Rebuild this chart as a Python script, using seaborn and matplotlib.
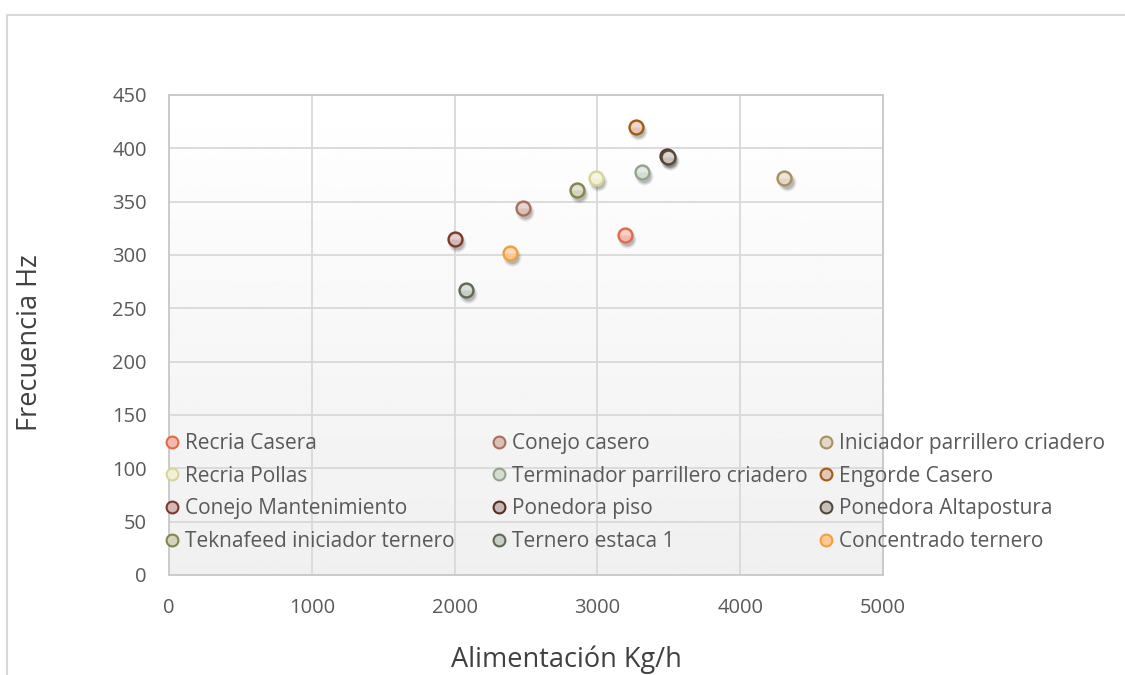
import numpy as np
import pandas as pd
import matplotlib
matplotlib.use("Agg")
import matplotlib.pyplot as plt
import matplotlib.transforms as mtransforms
from matplotlib.lines import Line2D
from matplotlib.markers import MarkerStyle
import seaborn as sns

# Feed types with measured feed rate (kg/h) and frequency (Hz)
series = [
    "Recria Casera", "Conejo casero", "Iniciador parrillero criadero",
    "Recria Pollas", "Terminador parrillero criadero", "Engorde Casero",
    "Conejo Mantenimiento", "Ponedora piso", "Ponedora Altapostura",
    "Teknafeed iniciador ternero", "Ternero estaca 1", "Concentrado ternero",
]
alimentacion = [3190, 2480, 4310, 2990, 3310, 3270, 2000, 3485, 3495, 2860, 2080, 2390]
frecuencia = [319, 344, 372, 372, 378, 420, 315, 393, 392, 361, 267, 302]

fill_colors = ["#F4B8AC", "#DCC0B8", "#E4D8C4", "#F2F0D0", "#D4DED0", "#E8C4B8",
               "#D4B8B4", "#C8B8B4", "#C8C0B8", "#D4D4BC", "#C8CEC4", "#FFC890"]
edge_colors = ["#E06A4A", "#A8705C", "#A89064", "#D8D49C", "#94A48C", "#A05C10",
               "#7C3A2C", "#5C2C20", "#54483A", "#84844C", "#5C6A54", "#F0A040"]

x_ticks = [0, 1000, 2000, 3000, 4000, 5000]
y_ticks = list(range(0, 451, 50))

df = pd.DataFrame({"Alimentación": alimentacion, "Frecuencia": frecuencia, "Serie": series})

sns.set_theme(style="white")
plt.rcParams["font.family"] = ["Open Sans", "DejaVu Sans"]
text_color = "#595959"

W, H = 1125, 675
fig = plt.figure(figsize=(W / 100, H / 100), dpi=100)
fig.patch.set_facecolor("white")
ax = fig.add_axes([169 / W, 1 - 575 / H, (883 - 169) / W, (575 - 95) / H])

# soft vertical gradient in the plot area
grad = np.linspace(0.94, 1.0, 256).reshape(-1, 1)
ax.imshow(grad, extent=(0, 1, 0, 1), transform=ax.transAxes, cmap="gray",
          vmin=0, vmax=1, aspect="auto", origin="lower", zorder=0)

ax.set_xlim(0, 5000)
ax.set_ylim(0, 450)
ax.set_xticks(x_ticks)
ax.set_yticks(y_ticks)
ax.grid(True, color="#D9D9D9", linewidth=1.3, zorder=1)
ax.set_axisbelow(True)
for sp in ax.spines.values():
    sp.set_color("#C8C8C8")
    sp.set_linewidth(1.3)
ax.tick_params(axis="both", length=0, labelsize=14.5, colors=text_color)
ax.tick_params(axis="y", pad=16)
ax.tick_params(axis="x", pad=16.5)

# marker shadows
for dx, dy, a, s in [(1.5, -3.0, 0.08, 170), (1.5, -3.0, 0.10, 125), (1.5, -3.0, 0.12, 90)]:
    off = mtransforms.offset_copy(ax.transData, fig=fig, x=dx, y=dy, units="points")
    ax.scatter(df["Alimentación"], df["Frecuencia"], s=s, color="black", alpha=a,
               linewidths=0, transform=off, zorder=3)

handles = []
for i, name in enumerate(series):
    sub = df[df["Serie"] == name]
    sns.scatterplot(data=sub, x="Alimentación", y="Frecuencia", ax=ax, s=100,
                    color=fill_colors[i], edgecolor=edge_colors[i], linewidth=1.7,
                    zorder=4 + i * 0.01, legend=False)
    # glossy upper half
    ax.scatter(sub["Alimentación"], sub["Frecuencia"], s=58,
               marker=MarkerStyle("o", fillstyle="top"), color="white", alpha=0.35,
               linewidths=0, zorder=4 + i * 0.01 + 0.005)
    handles.append(Line2D([0], [0], marker="o", linestyle="none", markersize=8.5,
                          markerfacecolor=fill_colors[i], markeredgecolor=edge_colors[i],
                          markeredgewidth=1.5, label=name))

ax.set_xlabel("")
ax.set_ylabel("")

# legend: three columns of four entries, filled row by row
col_x = [163.6, 490.6, 817.6]
top_y = 433
for c in range(3):
    hs = [handles[r * 3 + c] for r in range(4)]
    fig.legend(handles=hs, loc="upper left",
               bbox_to_anchor=(col_x[c] / W, 1 - top_y / H),
               bbox_transform=fig.transFigure, frameon=False, fontsize=15,
               handlelength=0.8, handletextpad=0.225, labelspacing=0.557,
               borderpad=0, borderaxespad=0, labelcolor=text_color)

fig.text(566 / W, 1 - 660 / H, "Alimentación Kg/h", ha="center", va="center",
         fontsize=19.5, color="#404040")
fig.text(30 / W, 1 - 343 / H, "Frecuencia Hz", ha="center", va="center",
         rotation=90, fontsize=19.5, color="#404040")

# outer chart border
fig.add_artist(Line2D([7 / W, 1.0], [1 - 15.3 / H] * 2, transform=fig.transFigure,
                      color="#D9D9D9", linewidth=1.5))
fig.add_artist(Line2D([7 / W] * 2, [0, 1 - 15.3 / H], transform=fig.transFigure,
                      color="#D9D9D9", linewidth=1.5))

fig.savefig("out.png", dpi=100)
